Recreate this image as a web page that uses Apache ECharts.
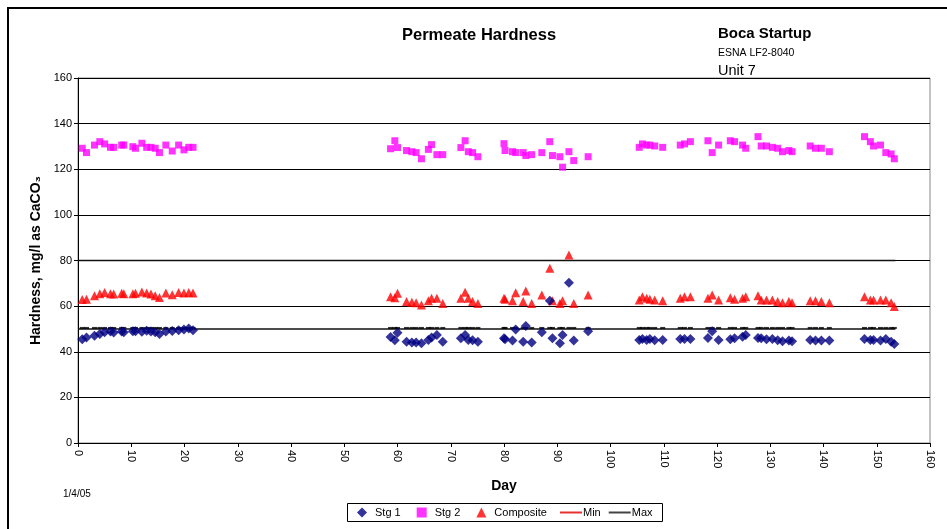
<!DOCTYPE html>
<html><head><meta charset="utf-8">
<script src="https://cdn.jsdelivr.net/npm/echarts@6/dist/echarts.min.js"></script>
<style>html,body{margin:0;padding:0;background:#fff}#c{width:947px;height:529px}</style>
</head><body><div id="c"></div>
<script>
// ---- data ----
const days = [
  0.8, 1.6, 3.1, 4.1, 5.0, 6.1, 6.7, 8.2, 8.6, 10.3, 10.8, 12.0, 12.9, 13.7, 14.5, 15.3, 16.5, 17.7, 18.9, 19.9, 20.8, 21.6,
  58.7, 59.5, 60.0, 61.7, 62.7, 63.5, 64.5, 65.8, 66.4, 67.4, 68.5, 71.9, 72.7, 73.3, 74.1, 75.1, 80.0, 80.2, 81.6, 82.2, 83.6, 84.1, 85.2, 87.1, 88.6, 89.1, 90.5, 91.0, 92.2, 93.1, 95.8,
  105.4, 106.0, 106.8, 107.4, 108.3, 109.8, 113.1, 113.9, 115.0, 118.3, 119.1, 120.3, 122.5, 123.3, 124.8, 125.4, 127.7, 128.3, 129.3, 130.4, 131.4, 132.3, 133.5, 134.1, 137.5, 138.5, 139.6, 141.1, 147.7, 148.8, 149.4, 150.7, 151.7, 152.7, 153.3
];
const stg1 = [
  45.5, 46.2, 47.0, 47.8, 48.6, 48.9, 48.4, 48.9, 48.5, 49.0, 49.0, 48.8, 49.2, 48.9, 48.5, 47.8, 48.9, 49.1, 49.4, 49.8, 50.2, 49.4,
  46.5, 45.0, 48.3, 44.4, 44.1, 44.1, 43.7, 45.2, 46.3, 47.3, 44.4, 45.9, 47.3, 45.2, 45.0, 44.4, 45.9, 45.5, 44.9, 49.8, 44.4, 51.3, 44.1, 48.5, 62.4, 45.9, 43.7, 47.3, 70.3, 44.9, 49.0,
  45.2, 45.6, 45.2, 45.6, 45.0, 45.2, 45.6, 45.6, 45.6, 46.0, 49.0, 45.2, 45.5, 45.9, 46.6, 47.3, 46.0, 45.9, 45.5, 45.6, 45.0, 44.6, 44.9, 44.6, 45.2, 44.9, 44.9, 44.9, 45.6, 45.2, 45.2, 44.9, 45.6, 44.4, 43.4
];
const stg2 = [
  129.2, 127.3, 130.6, 132.1, 131.1, 129.6, 129.6, 130.6, 130.6, 129.9, 129.2, 131.4, 129.6, 129.6, 129.2, 127.3, 130.6, 128.0, 130.6, 128.5, 129.6, 129.6,
  129.0, 132.5, 129.5, 128.2, 127.7, 127.3, 124.6, 128.7, 130.8, 126.4, 126.4, 129.5, 132.5, 127.7, 127.3, 125.5, 131.2, 128.2, 127.7, 127.3, 127.3, 126.0, 126.4, 127.3, 132.1, 126.0, 125.5, 120.9, 127.7, 123.8, 125.5,
  129.6, 131.1, 130.6, 130.6, 130.2, 129.6, 130.6, 131.1, 132.1, 132.5, 127.3, 130.6, 132.5, 132.1, 130.6, 129.2, 134.3, 130.2, 130.2, 129.6, 129.2, 127.7, 128.2, 127.7, 130.2, 129.2, 129.2, 127.7, 134.3, 132.1, 130.2, 130.6, 127.3, 126.7, 124.6
];
const composite = [
  62.9, 63.0, 64.5, 65.4, 66.0, 65.4, 65.3, 65.6, 65.4, 65.4, 65.6, 66.2, 65.7, 65.3, 64.6, 63.8, 65.7, 65.0, 66.0, 65.8, 66.0, 65.8,
  64.1, 63.7, 65.6, 62.0, 61.7, 61.5, 60.5, 62.4, 63.4, 63.4, 61.2, 63.4, 66.1, 63.4, 62.0, 61.2, 63.4, 63.0, 62.4, 65.9, 62.0, 66.6, 61.2, 64.9, 76.6, 62.4, 61.2, 62.4, 82.4, 61.2, 64.9,
  62.7, 64.1, 63.4, 63.0, 62.7, 62.4, 63.4, 64.1, 64.1, 63.4, 64.9, 62.7, 63.7, 63.0, 63.4, 64.1, 64.6, 62.7, 62.7, 62.7, 62.0, 61.5, 62.0, 61.5, 62.4, 62.4, 62.0, 61.5, 64.1, 62.7, 62.7, 62.7, 62.7, 61.5, 59.8
];
const minLimit = 50;
const maxLimit = 80;
const limitDays = [0, 153.5];

// ---- chart ----
const FONT = 'Liberation Sans, Arial, Helvetica, sans-serif';
const pair = (xs, ys) => xs.map((d, i) => [d, ys[i]]);
const chart = echarts.init(document.getElementById('c'), null, {renderer: 'canvas'});
const legendText = {fontFamily: FONT, fontSize: 11, color: '#000'};
const option = {
  backgroundColor: '#fff',
  animation: false,
  textStyle: {fontFamily: FONT},
  grid: {left: 78, right: 17, top: 78, bottom: 86, show: true, borderColor: '#888', borderWidth: 1},
  xAxis: {
    type: 'value', min: 0, max: 160, interval: 10,
    name: 'Day', nameLocation: 'middle', nameGap: 36,
    nameTextStyle: {fontFamily: FONT, fontSize: 14, fontWeight: 'bold', color: '#000'},
    axisLine: {show: true, onZero: false, lineStyle: {color: '#000', width: 1}},
    axisTick: {show: true, length: 4, lineStyle: {color: '#000'}},
    axisLabel: {rotate: -90, fontSize: 11, color: '#000', fontFamily: FONT, margin: 7},
    splitLine: {show: false}
  },
  yAxis: {
    type: 'value', min: 0, max: 160, interval: 20,
    name: 'Hardness, mg/l as CaCO\u2083', nameLocation: 'middle', nameGap: 34, nameRotate: 90,
    nameTextStyle: {fontFamily: FONT, fontSize: 14, fontWeight: 'bold', color: '#000'},
    axisLine: {show: true, lineStyle: {color: '#000', width: 1}},
    axisTick: {show: true, length: 4, lineStyle: {color: '#000'}},
    axisLabel: {fontSize: 11, color: '#000', fontFamily: FONT, margin: 6},
    splitLine: {show: true, lineStyle: {color: '#000', width: 1}}
  },
  legend: [
    {
      left: 357, top: 507, orient: 'horizontal', padding: 0,
      itemWidth: 10, itemHeight: 10, itemGap: 16,
      textStyle: Object.assign({padding: [0, 0, 0, 3]}, legendText),
      data: [
        {name: 'Stg 1', icon: 'diamond', itemStyle: {color: '#000080'}},
        {name: 'Stg 2', icon: 'rect', itemStyle: {color: '#FF00FF'}},
        {name: 'Composite', icon: 'triangle', itemStyle: {color: '#FF0000'}}
      ]
    },
    {
      left: 560, top: 507, orient: 'horizontal', padding: 0,
      itemWidth: 22, itemHeight: 2, itemGap: 8,
      textStyle: Object.assign({padding: [0, 0, 0, -4]}, legendText),
      data: [
        {name: 'Min', icon: 'rect', itemStyle: {color: '#E8302F'}},
        {name: 'Max', icon: 'rect', itemStyle: {color: '#444'}}
      ]
    }
  ],
  graphic: [
    {type: 'rect', shape: {x: 8, y: 8, width: 960, height: 560}, style: {fill: 'none', stroke: '#000', lineWidth: 2}, silent: true, z: -1},
    {type: 'rect', shape: {x: 347.5, y: 503.5, width: 315, height: 18}, style: {fill: 'none', stroke: '#000', lineWidth: 1}, silent: true},
    {type: 'text', x: 402, y: 35, style: {text: 'Permeate Hardness', font: 'bold 16.5px ' + FONT, fill: '#000', verticalAlign: 'middle'}},
    {type: 'text', x: 718, y: 34, style: {text: 'Boca Startup', font: 'bold 15px ' + FONT, fill: '#000', verticalAlign: 'middle'}},
    {type: 'text', x: 718, y: 53, style: {text: 'ESNA LF2-8040', font: '10.5px ' + FONT, fill: '#000', verticalAlign: 'middle'}},
    {type: 'text', x: 718, y: 71, style: {text: 'Unit 7', font: '14.5px ' + FONT, fill: '#000', verticalAlign: 'middle'}},
    {type: 'text', x: 63, y: 494, style: {text: '1/4/05', font: '10px ' + FONT, fill: '#000', verticalAlign: 'middle'}}
  ],
  series: [
    {name: 'Max', type: 'line', data: limitDays.map(d => [d, maxLimit]), symbol: 'none',
     lineStyle: {color: '#111', width: 1.5}, itemStyle: {color: '#444'}, z: 1},
    {name: 'Min', type: 'line', data: limitDays.map(d => [d, minLimit]), symbol: 'none',
     lineStyle: {color: '#111', width: 1.5}, itemStyle: {color: '#E8302F'}, z: 1},
    {name: 'MinMarks', type: 'scatter', data: days.map(d => [d, minLimit]), symbol: 'rect',
     symbolSize: [5, 2], symbolOffset: [0, -1], itemStyle: {color: '#000'}, z: 1, silent: true},
    {name: 'Composite', type: 'scatter', data: pair(days, composite), symbol: 'triangle', symbolSize: 9,
     itemStyle: {color: '#FF0000'}, z: 3},
    {name: 'Stg 2', type: 'scatter', data: pair(days, stg2), symbol: 'rect', symbolSize: 7,
     itemStyle: {color: '#FF00FF'}, z: 3},
    {name: 'Stg 1', type: 'scatter', data: pair(days, stg1), symbol: 'diamond', symbolSize: 10,
     itemStyle: {color: '#000080'}, z: 4}
  ]
};
chart.setOption(option);
</script>
</body></html>
